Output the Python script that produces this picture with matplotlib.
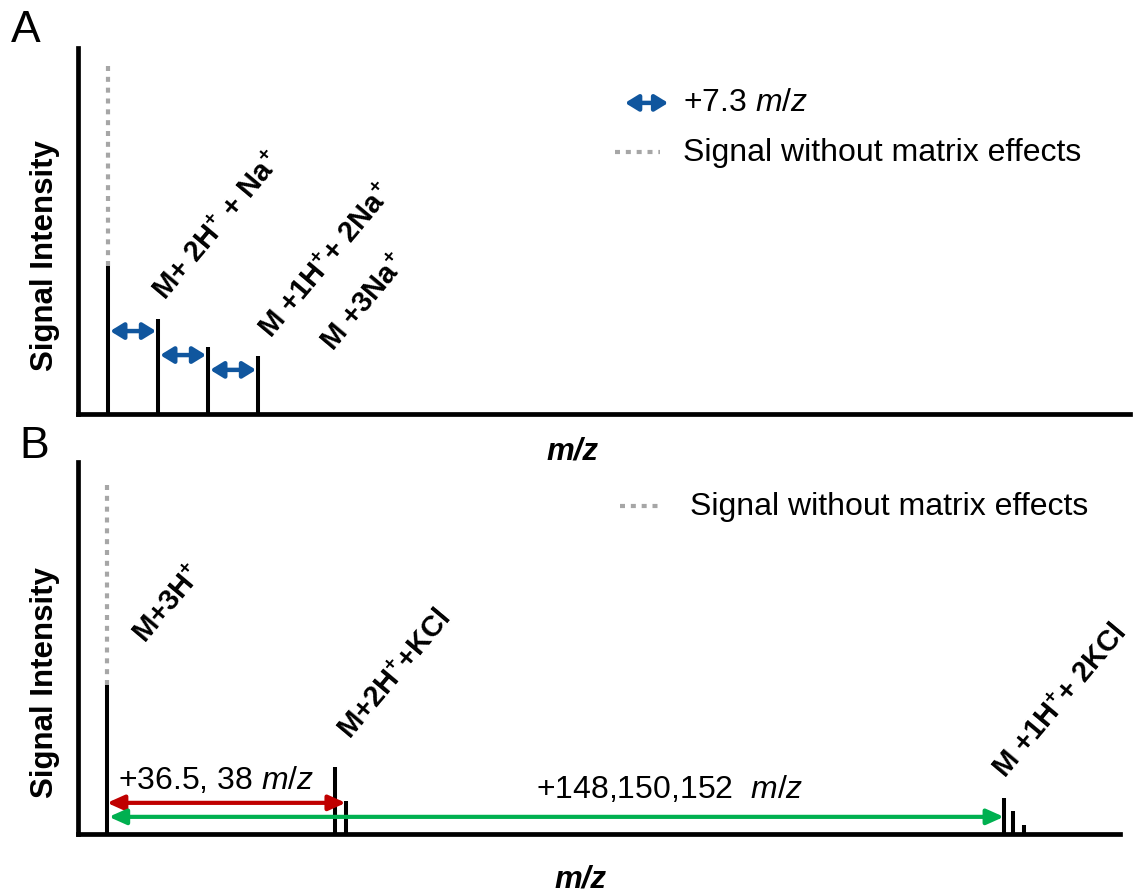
import matplotlib
matplotlib.use("Agg")
import matplotlib.pyplot as plt

plt.rcParams['font.family'] = ['Liberation Sans', 'DejaVu Sans']
plt.rcParams['mathtext.fontset'] = 'custom'
plt.rcParams['mathtext.rm'] = 'Liberation Sans'
plt.rcParams['mathtext.it'] = 'Liberation Sans:italic'
plt.rcParams['mathtext.bf'] = 'Liberation Sans:bold'

# ---------------- data ----------------
# Panel A: +7.3 m/z sodium adduct series (schematic)
a_mz = [1000.0, 1007.3, 1014.6, 1021.9]
a_int = [42.0, 27.0, 19.0, 16.5]
a_ref = 100.0                       # signal without matrix effects
a_labels = [r'M+ 2H$^{\mathbf{+}}$ + Na$^{\mathbf{+}}$',
            r'M +1H$^{\mathbf{+}}$+ 2Na$^{\mathbf{+}}$',
            r'M +3Na$^{\mathbf{+}}$']
a_label_x = [1008.4, 1023.8, 1032.9]
a_label_y = [32.0, 21.3, 17.6]
a_arrow_y = [23.5, 16.7, 12.5]

# Panel B: KCl adducts (schematic positions)
b_mz = [1000.0, 1037.6, 1039.4, 1148.0, 1149.5, 1151.3]
b_int = [42.6, 19.1, 9.4, 10.3, 6.6, 2.6]
b_ref = 100.0
b_labels = [r'M+3H$^{\mathbf{+}}$',
            r'M+2H$^{\mathbf{+}}$+KCl',
            r'M +1H$^{\mathbf{+}}$+ 2KCl']
b_label_x = [1006.3, 1040.1, 1148.2]
b_label_y = [54.3, 27.1, 15.7]

BLUE = '#10569e'
RED = '#c00000'
GREEN = '#00b050'
GREY = '#a6a6a6'

REG = 23
BOLD = 22.5
ROT = 21

fig = plt.figure(figsize=(11.41, 8.95), dpi=100)

axA = fig.add_axes([78/1141, 1-415/895, (1130-78)/1141, 366/895])
axB = fig.add_axes([78/1141, 1-835/895, (1120-78)/1141, 372/895])

for ax in (axA, axB):
    for s in ('top', 'right'):
        ax.spines[s].set_visible(False)
    for s in ('left', 'bottom'):
        ax.spines[s].set_linewidth(3.4)
        ax.spines[s].set_capstyle('projecting')
    ax.set_xticks([])
    ax.set_yticks([])

dot_style = (0, (1.2, 1.4))
DOT_LW = 3.0


def dbl_arrow(ax, x0, x1, y, color, hl, hw, ms, lw=3, coords='data'):
    ax.annotate('', xy=(x1, y), xytext=(x0, y), xycoords=coords,
                arrowprops=dict(arrowstyle=f'<|-|>,head_length={hl},head_width={hw}',
                                lw=lw, color=color, shrinkA=0, shrinkB=0,
                                mutation_scale=ms, joinstyle='round'))


# ---- Panel A ----
axA.set_xlim(995.6, 995.6 + 1052/6.85)
axA.set_ylim(0, 103.7)
axA.vlines(a_mz, 0, a_int, color='black', lw=2.9)
axA.vlines(a_mz[0], a_int[0], a_ref, color=GREY, lw=DOT_LW, linestyles=[dot_style])
for i in range(3):
    dbl_arrow(axA, a_mz[i] + 0.3, a_mz[i+1] - 0.3, a_arrow_y[i], BLUE, 0.65, 0.4, 12, lw=3.2)
for t, x, y in zip(a_labels, a_label_x, a_label_y):
    axA.text(x, y, t, rotation=50, rotation_mode='anchor', ha='left', va='baseline',
             fontsize=ROT, fontweight='bold')

# legend A
dbl_arrow(axA, 0.520, 0.561, 0.850, BLUE, 0.65, 0.4, 12, lw=3.2, coords='axes fraction')
axA.text(0.575, 0.852, r'+7.3 $\mathit{m/z}$', transform=axA.transAxes,
         ha='left', va='center', fontsize=REG)
axA.plot([0.510, 0.553], [0.716, 0.716], transform=axA.transAxes, color=GREY,
         lw=DOT_LW, linestyle=dot_style)
axA.text(0.575, 0.716, 'Signal without matrix effects', transform=axA.transAxes,
         ha='left', va='center', fontsize=REG)

# ---- Panel B ----
axB.set_xlim(995.21, 995.21 + 1042/6.06)
axB.set_ylim(0, 106.3)
axB.vlines(b_mz, 0, b_int, color='black', lw=2.9)
axB.vlines(b_mz[0], b_int[0], b_ref, color=GREY, lw=DOT_LW, linestyles=[dot_style])
dbl_arrow(axB, b_mz[0], b_mz[2], 8.9, RED, 0.85, 0.38, 12)
dbl_arrow(axB, b_mz[0] + 0.3, b_mz[3], 4.9, GREEN, 0.85, 0.38, 12)
axB.text(1018.0, 15.7, r'+36.5, 38 $\mathit{m/z}$', ha='center', va='center', fontsize=REG)
axB.text(1092.9, 12.9, r'+148,150,152  $\mathit{m/z}$', ha='center', va='center', fontsize=REG)
for t, x, y in zip(b_labels, b_label_x, b_label_y):
    axB.text(x, y, t, rotation=50, rotation_mode='anchor', ha='left', va='baseline',
             fontsize=ROT, fontweight='bold')

axB.plot([0.520, 0.559], [0.882, 0.882], transform=axB.transAxes, color=GREY,
         lw=DOT_LW, linestyle=dot_style)
axB.text(0.587, 0.882, 'Signal without matrix effects', transform=axB.transAxes,
         ha='left', va='center', fontsize=REG)

# axis labels and panel letters
fig.text(45/1141, 1-256/895, 'Signal Intensity', rotation=90, ha='center', va='center',
         fontsize=BOLD, fontweight='bold')
fig.text(45/1141, 1-683/895, 'Signal Intensity', rotation=90, ha='center', va='center',
         fontsize=BOLD, fontweight='bold')
fig.text(572/1141, 1-452/895, 'm/z', ha='center', va='center', fontsize=BOLD,
         fontweight='bold', fontstyle='italic')
fig.text(580/1141, 1-880/895, 'm/z', ha='center', va='center', fontsize=BOLD,
         fontweight='bold', fontstyle='italic')
fig.text(26/1141, 1-30/895, 'A', ha='center', va='center', fontsize=32)
fig.text(34.5/1141, 1-446.5/895, 'B', ha='center', va='center', fontsize=32)

fig.savefig('out.png', dpi=100)
